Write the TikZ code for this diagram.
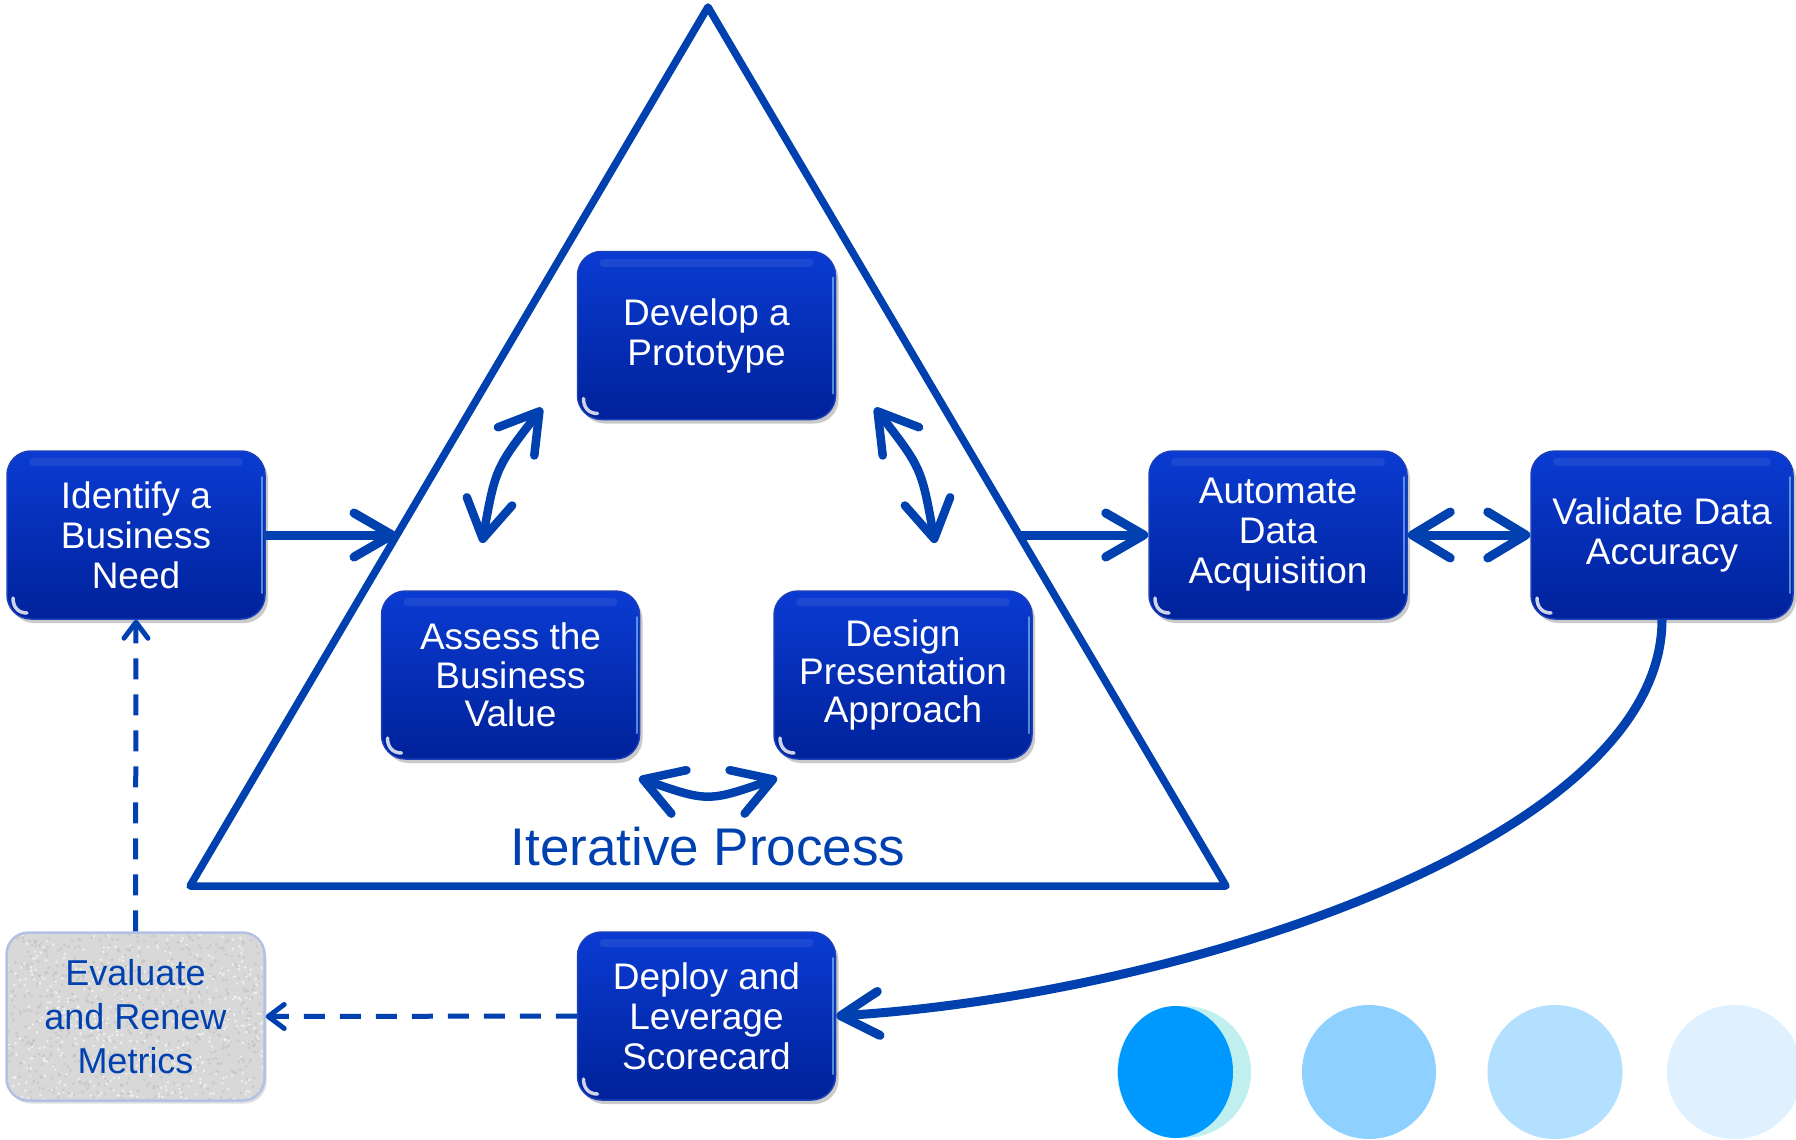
\documentclass[tikz,border=0pt]{standalone}
\usepackage{fontspec}
\setmainfont{Liberation Sans}
\usetikzlibrary{arrows.meta,shadows,calc}
\definecolor{lineblue}{HTML}{0041AF}
\definecolor{boxtop}{HTML}{0A3BD2}
\definecolor{boxbot}{HTML}{00229A}
\definecolor{boxedge}{HTML}{1A3FB8}
\definecolor{evalfill}{HTML}{D8D8D8}
\definecolor{evaledge}{HTML}{B4C0E4}
\definecolor{cone}{HTML}{0099FF}
\definecolor{cback}{HTML}{BFEFEF}
\definecolor{ctwo}{HTML}{8ED0FF}
\definecolor{cthree}{HTML}{B3E0FF}
\definecolor{cfour}{HTML}{DFF0FF}
\begin{document}
\begin{tikzpicture}[x=1pt,y=-1pt,
  box/.style={rounded corners=24pt, minimum width=258pt, minimum height=168pt,
    top color=boxtop, bottom color=boxbot, draw=boxedge, line width=1.5pt,
    text=white, align=center, font=\fontsize{37}{40}\selectfont,
    drop shadow={shadow xshift=3pt, shadow yshift=-4pt, opacity=0.35, fill=black!60},
    path picture={
      \draw[white, opacity=.8, line width=3.5pt, line cap=round]
        ([shift={(6pt,21pt)}]path picture bounding box.south west)
        .. controls ([shift={(6pt,12pt)}]path picture bounding box.south west)
        and ([shift={(11pt,6pt)}]path picture bounding box.south west)
        .. ([shift={(20pt,6pt)}]path picture bounding box.south west);
      \draw[white, opacity=.08, line width=8pt, line cap=round]
        ([shift={(26pt,-11pt)}]path picture bounding box.north west) --
        ([shift={(-26pt,-11pt)}]path picture bounding box.north east);
      \draw[white!60!cyan, opacity=.55, line width=2pt, line cap=round]
        ([shift={(-3pt,-26pt)}]path picture bounding box.north east) --
        ([shift={(-3pt,26pt)}]path picture bounding box.south east);
    }},
  evalbox/.style={rounded corners=22pt, minimum width=258pt, minimum height=168pt,
    fill=evalfill, draw=evaledge, line width=2.5pt,
    text=lineblue, align=center, font=\fontsize{36}{44}\selectfont,
    drop shadow={shadow xshift=2pt, shadow yshift=-3pt, opacity=0.25, fill=black!50},
    path picture={
      \pgfmathsetseed{7}
      \foreach \i in {1,...,700} {
        \fill[gray!55, opacity=.45] ($(path picture bounding box.center)+(rand*130pt, rand*85pt)$) circle[radius=1.6pt];
      }
      \foreach \i in {1,...,500} {
        \fill[white, opacity=.6] ($(path picture bounding box.center)+(rand*130pt, rand*85pt)$) circle[radius=1.4pt];
      }
    }},
  tighter/.style={font=\fontsize{37}{38.4}\selectfont},
  tri/.style={draw=lineblue, line width=7.5pt, line join=round},
  arr/.style={draw=lineblue, line width=9pt, -{Straight Barb[length=38pt, width=44pt, round]}},
  darr/.style={draw=lineblue, line width=8.5pt, {Straight Barb[length=38pt, width=46pt, round]}-{Straight Barb[length=38pt, width=46pt, round]}},
  dasharr/.style={draw=lineblue, line width=5pt, dash pattern=on 21pt off 15pt, -{Straight Barb[length=16pt, width=24pt, round]}}
]
\useasboundingbox (0,0) rectangle (1796,1140);

% triangle
\coordinate (apex) at (708,7);
\coordinate (bl) at (190,886);
\coordinate (br) at (1226,886);
\coordinate (triL) at (396.5,535);
\coordinate (triR) at (1019.5,535);
\draw[tri] (apex) -- (br) -- (bl) -- cycle;

% boxes
\node[box] (identify) at (136,535) {Identify a\\Business\\Need};
\node[box] (develop) at (706.5,335.5) {Develop a\\Prototype};
\node[box, tighter] (assess) at (510.5,675) {Assess the\\Business\\Value};
\node[box, tighter] (design) at (903,675) {Design\\Presentation\\Approach};
\node[box] (automate) at (1278,535) {Automate\\Data\\Acquisition};
\node[box, minimum width=262pt] (validate) at (1662,535) {Validate Data\\Accuracy};
\node[box] (deploy) at (706.5,1016) {Deploy and\\Leverage\\Scorecard};
\node[evalbox] (evaluate) at (135.5,1016.5) {Evaluate\\and Renew\\Metrics};

\node[anchor=base, text=lineblue, font=\fontsize{53}{56}\selectfont] (iter) at (708,865) {Iterative Process};

% connectors
\draw[arr] (identify.east) -- (triL);
\draw[arr] (triR) -- (automate.west);
\draw[darr, line width=9pt] (automate.east) -- (validate.west);
\draw[arr] (validate.south) .. controls (1662,840) and (1180,995) .. (deploy.east);
\draw[dasharr] (deploy.west) -- (evaluate.east);
\draw[dasharr] (evaluate.north) -- (identify.south);

% inner double arrows
\coordinate (l1) at (482,543);
\coordinate (l2) at (542,408);
\coordinate (r1) at (875,408);
\coordinate (r2) at (935,543);
\coordinate (b1) at (639,778);
\coordinate (b2) at (777,778);
\draw[darr] (l1) .. controls (495.5,468) .. (l2);
\draw[darr] (r1) .. controls (921.5,468) .. (r2);
\draw[darr] (b1) .. controls (708,802) .. (b2);

% discs
\fill[cback] (1184,1072) ellipse[x radius=67, y radius=66];
\fill[cone] (1175.5,1072) ellipse[x radius=57.5, y radius=66];
\fill[ctwo] (1369,1072) ellipse[x radius=67, y radius=67];
\fill[cthree] (1555,1072) ellipse[x radius=67.5, y radius=67];
\fill[cfour] (1734.5,1072) ellipse[x radius=67.5, y radius=67];
\end{tikzpicture}
\end{document}
